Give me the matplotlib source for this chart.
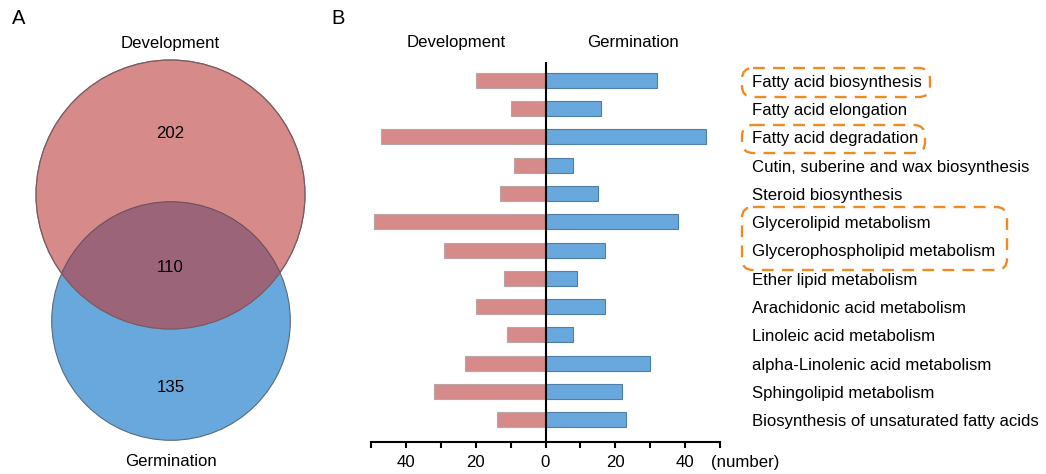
import matplotlib
matplotlib.use("Agg")
import matplotlib.pyplot as plt
from matplotlib.patches import Circle, FancyBboxPatch
import matplotlib.transforms as mtransforms

plt.rcParams['font.family'] = ['Liberation Sans', 'DejaVu Sans']

# ---- data ----
venn_sets = ["Development", "Germination"]
venn_only_dev = 202
venn_shared = 110
venn_only_germ = 135

pathways = [
    "Fatty acid biosynthesis",
    "Fatty acid elongation",
    "Fatty acid degradation",
    "Cutin, suberine and wax biosynthesis",
    "Steroid biosynthesis",
    "Glycerolipid metabolism",
    "Glycerophospholipid metabolism",
    "Ether lipid metabolism",
    "Arachidonic acid metabolism",
    "Linoleic acid metabolism",
    "alpha-Linolenic acid metabolism",
    "Sphingolipid metabolism",
    "Biosynthesis of unsaturated fatty acids",
]
development = [20, 10, 47, 9, 13, 49, 29, 12, 20, 11, 23, 32, 14]
germination = [32, 16, 46, 8, 15, 38, 17, 9, 17, 8, 30, 22, 23]
highlight_groups = [[0], [2], [5, 6]]
tick_values = [-40, -20, 0, 20, 40]
tick_labels = ["40", "20", "0", "20", "40"]

W, H = 1046, 474
fig = plt.figure(figsize=(W / 100, H / 100), dpi=100)
FS = 12.1

RED = "#D68A8A"
BLUE = "#69A8DC"
OVER = "#9C6479"
ORANGE = "#F08A24"

# overlay axes in pixel coordinates
ov = fig.add_axes([0, 0, 1, 1])
ov.set_xlim(0, W)
ov.set_ylim(H, 0)
ov.axis("off")

# ---- Venn ----
red_c = Circle((170.5, 194.5), 134.5, facecolor=RED, edgecolor="#8a7070", lw=0.8, zorder=2)
blue_c = Circle((171, 321), 119.3, facecolor=BLUE, edgecolor="#5a6a7a", lw=0.8, zorder=1)
ov.add_patch(blue_c)
ov.add_patch(red_c)
over_c = Circle((171, 321), 119.3, facecolor=OVER, edgecolor="#6a5060", lw=0.8, zorder=3)
ov.add_patch(over_c)
over_c.set_clip_path(red_c)
edge_c = Circle((170.5, 194.5), 134.5, facecolor="none", edgecolor="#7a5a60", lw=0.8, zorder=4)
ov.add_patch(edge_c)
ov.text(170.5, 133, str(venn_only_dev), ha="center", va="center", fontsize=FS, zorder=5)
ov.text(170.5, 268, str(venn_shared), ha="center", va="center", fontsize=FS, zorder=5)
ov.text(170.5, 388, str(venn_only_germ), ha="center", va="center", fontsize=FS, zorder=5)
ov.text(170.5, 43, venn_sets[0], ha="center", va="center", fontsize=FS)
ov.text(170.5, 461, venn_sets[1], ha="center", va="center", fontsize=FS)
ov.text(12, 18, "A", ha="left", va="center", fontsize=14.5)
ov.text(331, 18, "B", ha="left", va="center", fontsize=14.5)
ov.text(711, 462, "(number)", ha="left", va="center", fontsize=FS)

# ---- bar chart ----
ax_l, ax_r, ax_t, ax_b = 371, 720, 61.7, 442
ax = fig.add_axes([ax_l / W, (H - ax_b) / H, (ax_r - ax_l) / W, (ax_b - ax_t) / H])
ax.patch.set_alpha(0)
y = list(range(len(pathways)))
ax.barh(y, [-v for v in development], height=0.53, color=RED, edgecolor="#b9a5a5", lw=0.8)
ax.barh(y, germination, height=0.53, color=BLUE, edgecolor="#4f7fa8", lw=0.8)
ax.axvline(0, color="black", lw=1.5, zorder=5)
ax.set_xlim(-50, 50)
ax.set_ylim(len(pathways) - 1 + 0.78, -0.65)
for s in ["top", "right", "left"]:
    ax.spines[s].set_visible(False)
ax.spines["bottom"].set_linewidth(1.5)
ax.set_yticks([])
ax.set_xticks(tick_values)
ax.set_xticklabels(tick_labels, fontsize=FS)
ax.set_xticks(range(-50, 51, 10), minor=True)
ax.tick_params(axis="x", which="both", length=4.5, width=1.5, direction="out", pad=5)

ax.text(0.245, 1.05, "Development", transform=ax.transAxes, ha="center", va="center", fontsize=FS)
ax.text(0.75, 1.05, "Germination", transform=ax.transAxes, ha="center", va="center", fontsize=FS)

trans = mtransforms.blended_transform_factory(ax.transAxes, ax.transData)
lab_x = (752 - ax_l) / (ax_r - ax_l)
for i, name in enumerate(pathways):
    ax.text(lab_x, i + 0.07, name, transform=trans, ha="left", va="center", fontsize=FS, clip_on=False)

# ---- dashed highlight boxes (pixel coords) ----
boxes = [(742, 68, 930, 97), (742, 125, 925, 153), (742, 207, 1007, 270)]
for (x0, y0, x1, y1) in boxes:
    p = FancyBboxPatch((x0 + 8, y0 + 8), x1 - x0 - 16, y1 - y0 - 16,
                       boxstyle="round,pad=8,rounding_size=11",
                       facecolor="none", edgecolor=ORANGE, lw=1.7,
                       linestyle=(0, (5, 3.5)), zorder=6)
    ov.add_patch(p)

fig.savefig("out.png", dpi=100)
